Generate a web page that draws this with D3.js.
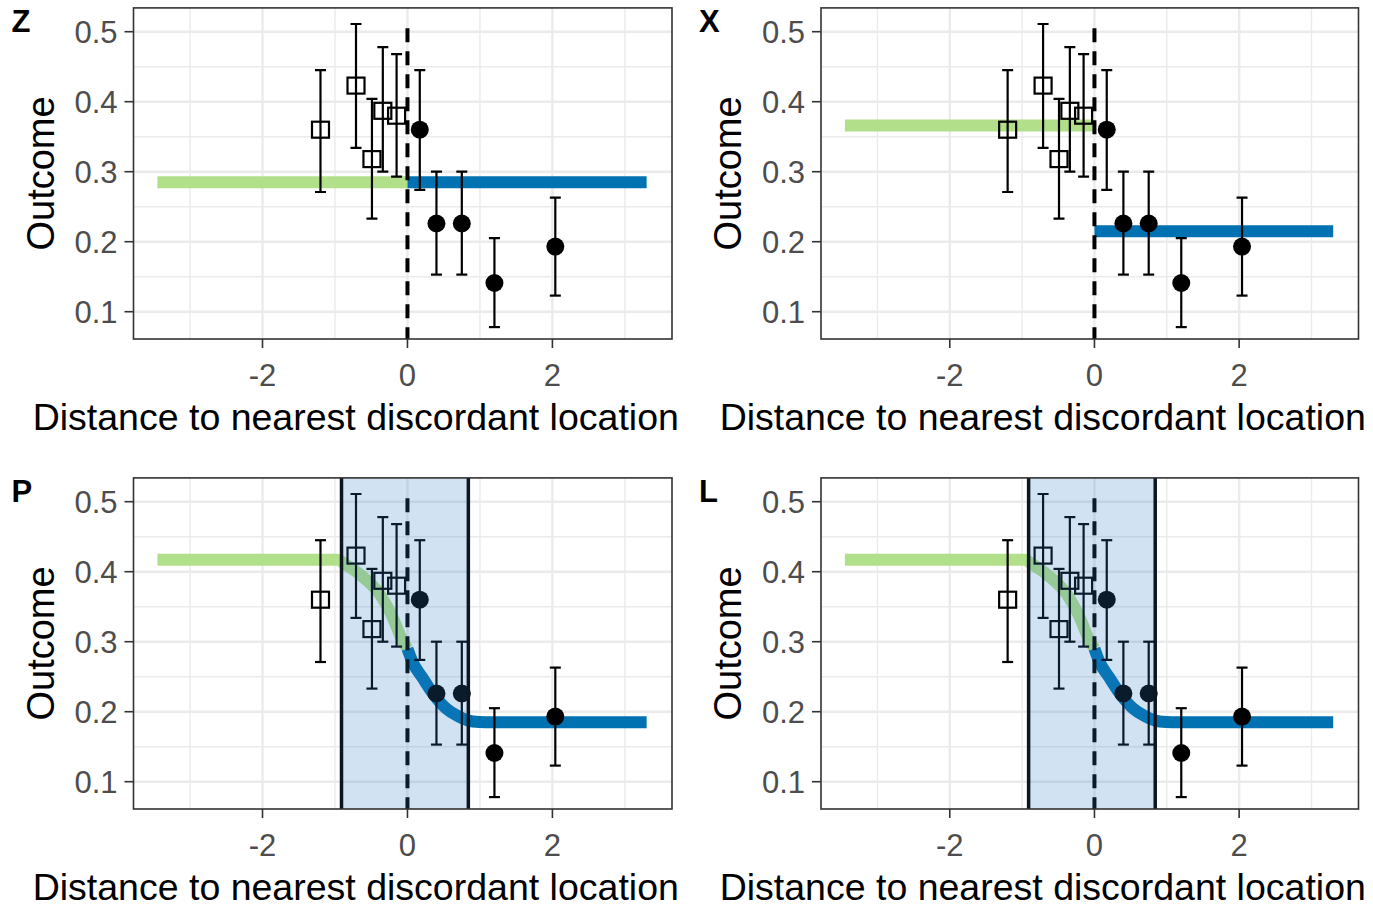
<!DOCTYPE html>
<html>
<head>
<meta charset="utf-8">
<script src="https://cdn.jsdelivr.net/npm/d3@7"></script>
<style>
  html, body { margin: 0; padding: 0; background: #ffffff; }
  svg { display: block; }
  text { font-family: "Liberation Sans", Arial, "DejaVu Sans", sans-serif; }
</style>
</head>
<body>
<svg id="chart" width="1373" height="908"></svg>
<script>
// ---------------- data ----------------
const panelLabels = ["Z", "X", "P", "L"];
const xTicks = [-2, 0, 2];
const xMinorTicks = [-3, -1, 1, 3];
const yTicks = [0.1, 0.2, 0.3, 0.4, 0.5];
const yMinorTicks = [0.15, 0.25, 0.35, 0.45];
const xTitle = "Distance to nearest discordant location";
const yTitle = "Outcome";

// observed points (same in every panel)
const ptX     = [-1.20, -0.71, -0.49, -0.34, -0.15, 0.17, 0.40, 0.75, 1.20, 2.04];
const ptY     = [0.360, 0.423, 0.318, 0.387, 0.380, 0.360, 0.226, 0.226, 0.141, 0.193];
const ptLo    = [0.271, 0.334, 0.233, 0.300, 0.293, 0.274, 0.153, 0.153, 0.078, 0.123];
const ptHi    = [0.445, 0.511, 0.404, 0.478, 0.468, 0.445, 0.300, 0.300, 0.205, 0.263];
const ptShape = ["square", "square", "square", "square", "square", "circle", "circle", "circle", "circle", "circle"];

// fitted lines, panel Z (no step)
const zGreenX = [-3.45, 0];
const zGreenY = [0.285, 0.285];
const zBlueX  = [0, 3.30];
const zBlueY  = [0.285, 0.285];
// panel X (sharp step)
const xGreenX = [-3.45, 0];
const xGreenY = [0.366, 0.366];
const xBlueX  = [0, 3.30];
const xBlueY  = [0.215, 0.215];
// panels P and L (smooth transition)
const sGreenX = [-3.45, -0.97, -0.85, -0.62, -0.39, -0.21, -0.07, 0];
const sGreenY = [0.417, 0.417, 0.410, 0.393, 0.369, 0.336, 0.302, 0.290];
const sBlueX  = [0, 0.07, 0.21, 0.35, 0.53, 0.71, 0.90, 1.08, 3.30];
const sBlueY  = [0.290, 0.271, 0.248, 0.226, 0.205, 0.193, 0.186, 0.185, 0.185];
// transition zone (P and L)
const zoneX = [-0.91, 0.84];
// dashed reference line
const refX = 0;
const refTop = 0.505;

// ---------------- layout ----------------
const GREEN = "#b2df8a";
const BLUE = "#0072b2";
const xDomain = [-3.78, 3.65];
const yDomain = [0.061, 0.534];
const cols = [{x0: 133.5, x1: 672}, {x0: 821, x1: 1358.5}];
const rows = [{off: 0}, {off: 470}];

const panels = [
  {label: panelLabels[0], col: 0, row: 0, gx: zGreenX, gy: zGreenY, bx: zBlueX, by: zBlueY, zone: false},
  {label: panelLabels[1], col: 1, row: 0, gx: xGreenX, gy: xGreenY, bx: xBlueX, by: xBlueY, zone: false},
  {label: panelLabels[2], col: 0, row: 1, gx: sGreenX, gy: sGreenY, bx: sBlueX, by: sBlueY, zone: true},
  {label: panelLabels[3], col: 1, row: 1, gx: sGreenX, gy: sGreenY, bx: sBlueX, by: sBlueY, zone: true}
];

const svg = d3.select("#chart");
svg.append("rect").attr("width", 1373).attr("height", 908).attr("fill", "#ffffff");

const pts = ptX.map((x, i) => ({x, y: ptY[i], lo: ptLo[i], hi: ptHi[i], shape: ptShape[i]}));

panels.forEach(p => {
  const c = cols[p.col];
  const off = rows[p.row].off;
  const x = d3.scaleLinear().domain(xDomain).range([c.x0, c.x1]);
  const y = d3.scaleLinear().domain([0.1, 0.5]).range([311.7 + off, 31.7 + off]);
  const top = y(yDomain[1]), bot = y(yDomain[0]);
  const g = svg.append("g");

  const clipId = "clip-" + p.label;
  svg.append("clipPath").attr("id", clipId)
    .append("rect").attr("x", c.x0).attr("y", top).attr("width", c.x1 - c.x0).attr("height", bot - top);

  // grid
  const grid = g.append("g");
  grid.selectAll(".ymin").data(yMinorTicks).enter().append("line")
    .attr("x1", c.x0).attr("x2", c.x1).attr("y1", d => y(d)).attr("y2", d => y(d))
    .attr("stroke", "#ebebeb").attr("stroke-width", 1.4);
  grid.selectAll(".xmin").data(xMinorTicks).enter().append("line")
    .attr("y1", top).attr("y2", bot).attr("x1", d => x(d)).attr("x2", d => x(d))
    .attr("stroke", "#ebebeb").attr("stroke-width", 1.4);
  grid.selectAll(".ymaj").data(yTicks).enter().append("line")
    .attr("x1", c.x0).attr("x2", c.x1).attr("y1", d => y(d)).attr("y2", d => y(d))
    .attr("stroke", "#ebebeb").attr("stroke-width", 2.4);
  grid.selectAll(".xmaj").data(xTicks).enter().append("line")
    .attr("y1", top).attr("y2", bot).attr("x1", d => x(d)).attr("x2", d => x(d))
    .attr("stroke", "#ebebeb").attr("stroke-width", 2.4);

  const body = g.append("g").attr("clip-path", `url(#${clipId})`);

  // fitted lines
  const line = d3.line().x(d => x(d[0])).y(d => y(d[1])).curve(d3.curveMonotoneX);
  body.append("path").datum(p.gx.map((v, i) => [v, p.gy[i]]))
    .attr("d", line).attr("fill", "none").attr("stroke", GREEN)
    .attr("stroke-width", 12).attr("stroke-linecap", "butt").attr("stroke-linejoin", "round");
  body.append("path").datum(p.bx.map((v, i) => [v, p.by[i]]))
    .attr("d", line).attr("fill", "none").attr("stroke", BLUE)
    .attr("stroke-width", 12).attr("stroke-linecap", "butt").attr("stroke-linejoin", "round");

  // dashed reference line
  body.append("line")
    .attr("x1", x(refX)).attr("x2", x(refX)).attr("y1", y(refTop)).attr("y2", bot)
    .attr("stroke", "#000").attr("stroke-width", 4).attr("stroke-dasharray", "14,9");

  // error bars
  const eb = body.append("g").selectAll("g").data(pts).enter().append("g");
  eb.append("line").attr("x1", d => x(d.x)).attr("x2", d => x(d.x))
    .attr("y1", d => y(d.lo)).attr("y2", d => y(d.hi))
    .attr("stroke", "#000").attr("stroke-width", 2.2);
  eb.append("line").attr("x1", d => x(d.x) - 5.5).attr("x2", d => x(d.x) + 5.5)
    .attr("y1", d => y(d.lo)).attr("y2", d => y(d.lo))
    .attr("stroke", "#000").attr("stroke-width", 2.2);
  eb.append("line").attr("x1", d => x(d.x) - 5.5).attr("x2", d => x(d.x) + 5.5)
    .attr("y1", d => y(d.hi)).attr("y2", d => y(d.hi))
    .attr("stroke", "#000").attr("stroke-width", 2.2);

  // points
  body.append("g").selectAll("rect").data(pts.filter(d => d.shape === "square")).enter().append("rect")
    .attr("x", d => x(d.x) - 8.5).attr("y", d => y(d.y) - 8)
    .attr("width", 17).attr("height", 16)
    .attr("fill", "none").attr("stroke", "#000").attr("stroke-width", 2.2);
  body.append("g").selectAll("circle").data(pts.filter(d => d.shape === "circle")).enter().append("circle")
    .attr("cx", d => x(d.x)).attr("cy", d => y(d.y)).attr("r", 9)
    .attr("fill", "#000");

  // transition zone
  if (p.zone) {
    body.append("rect")
      .attr("x", x(zoneX[0])).attr("y", top)
      .attr("width", x(zoneX[1]) - x(zoneX[0])).attr("height", bot - top)
      .attr("fill", "#2f7fc4").attr("fill-opacity", 0.22);
    body.selectAll(".zb").data(zoneX).enter().append("line")
      .attr("x1", d => x(d)).attr("x2", d => x(d)).attr("y1", top).attr("y2", bot)
      .attr("stroke", "#0d1620").attr("stroke-width", 3.5);
  }

  // panel border
  g.append("rect").attr("x", c.x0).attr("y", top).attr("width", c.x1 - c.x0).attr("height", bot - top)
    .attr("fill", "none").attr("stroke", "#333333").attr("stroke-width", 1.6);

  // axes ticks
  g.selectAll(".yt").data(yTicks).enter().append("line")
    .attr("x1", c.x0 - 9).attr("x2", c.x0).attr("y1", d => y(d)).attr("y2", d => y(d))
    .attr("stroke", "#333333").attr("stroke-width", 1.6);
  g.selectAll(".xt").data(xTicks).enter().append("line")
    .attr("y1", bot).attr("y2", bot + 9).attr("x1", d => x(d)).attr("x2", d => x(d))
    .attr("stroke", "#333333").attr("stroke-width", 1.6);

  // tick labels
  g.selectAll(".ytl").data(yTicks).enter().append("text")
    .attr("x", c.x0 - 16).attr("y", d => y(d)).attr("dy", "0.36em")
    .attr("text-anchor", "end").attr("font-size", 31).attr("fill", "#4d4d4d")
    .text(d => d3.format(".1f")(d));
  g.selectAll(".xtl").data(xTicks).enter().append("text")
    .attr("x", d => x(d)).attr("y", off + 386)
    .attr("text-anchor", "middle").attr("font-size", 31).attr("fill", "#4d4d4d")
    .text(d => d3.format("d")(d).replace("−", "-"));

  // axis titles
  g.append("text")
    .attr("x", (c.x0 + c.x1) / 2 - 47).attr("y", off + 430)
    .attr("text-anchor", "middle").attr("font-size", 37.5).attr("fill", "#000")
    .text(xTitle);
  const yc = (top + bot) / 2;
  const ytx = c.x0 - 80;
  g.append("text")
    .attr("transform", `translate(${ytx},${yc}) rotate(-90)`)
    .attr("text-anchor", "middle").attr("font-size", 38).attr("fill", "#000")
    .text(yTitle);

  // panel label
  g.append("text")
    .attr("x", c.x0 - 122).attr("y", off + 32)
    .attr("font-size", 31).attr("font-weight", "bold").attr("fill", "#000")
    .text(p.label);
});
</script>
</body>
</html>
